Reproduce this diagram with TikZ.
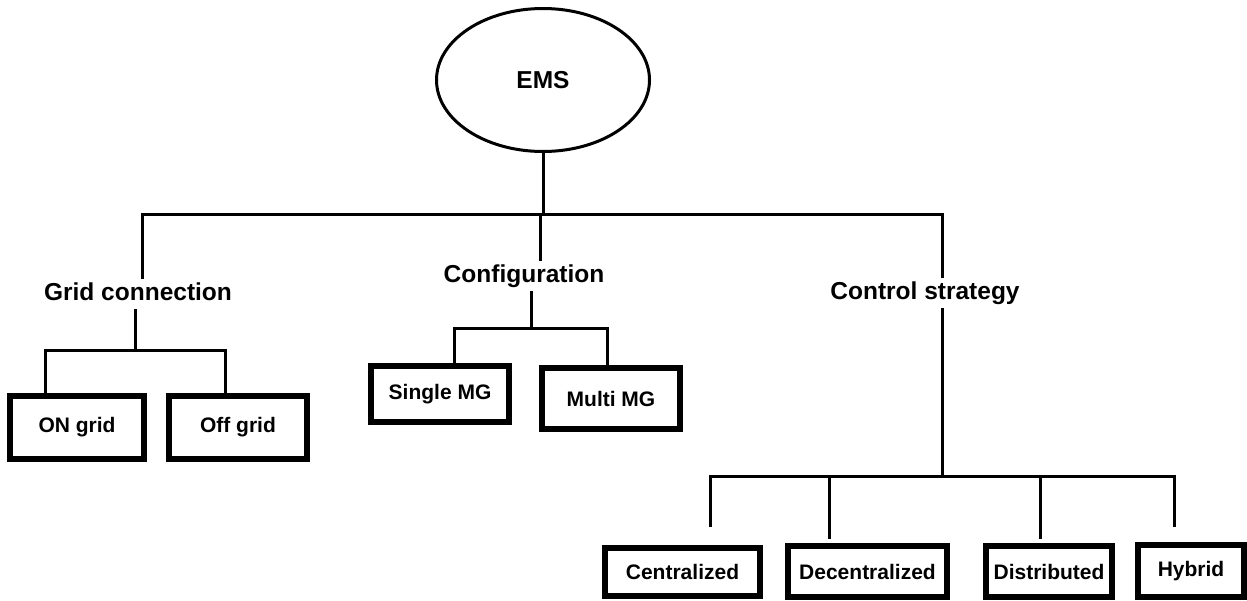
\documentclass[tikz,border=0pt]{standalone}
\usepackage{fontspec}
\setmainfont{Liberation Sans}
\usetikzlibrary{shapes.geometric}

\tikzset{
  lbl/.style={font=\bfseries\fontsize{24.5}{28}\selectfont, inner xsep=0pt,
    inner ysep=4pt, text height=18pt, text depth=6pt},
  leaf/.style={draw, line width=6pt, font=\bfseries\fontsize{21}{24}\selectfont, inner sep=0pt},
  wire/.style={line width=3pt, line cap=rect}
}

\begin{document}
\begin{tikzpicture}[x=1pt,y=-1pt]
\useasboundingbox (0,0) rectangle (1247,600);

\node[draw, ellipse, line width=3pt, minimum width=213pt, minimum height=143pt,
      font=\bfseries\fontsize{24.5}{28}\selectfont] (ems) at (543,80) {EMS};

\node[lbl, anchor=base] (grid) at (138,300) {Grid connection};
\node[lbl, anchor=base] (conf) at (524,282) {Configuration};
\node[lbl, anchor=base] (ctrl) at (925,299) {Control strategy};

\node[leaf, minimum width=134pt, minimum height=63pt] (on)     at (77,427.5)   {ON grid};
\node[leaf, minimum width=138pt, minimum height=63pt] (off)    at (238,427.5)  {Off grid};
\node[leaf, minimum width=138pt, minimum height=56pt] (single) at (440,394)    {Single MG};
\node[leaf, minimum width=138pt, minimum height=61pt] (multi)  at (611,398.5)  {Multi MG};
\node[leaf, minimum width=155pt, minimum height=48pt] (cen)    at (682.5,572)  {Centralized};
\node[leaf, minimum width=159pt, minimum height=51pt] (dec)    at (867.5,571.5) {Decentralized};
\node[leaf, minimum width=126pt, minimum height=51pt] (dis)    at (1049,571.5) {Distributed};
\node[leaf, minimum width=106pt, minimum height=52pt] (hyb)    at (1191,571)   {Hybrid};

% junctions
\coordinate (top) at (543,214);
\coordinate (tg)  at (142,214);
\coordinate (tc)  at (540,214);
\coordinate (ts)  at (942,214);
\coordinate (gg)  at (135,350);
\coordinate (ggl) at (45,350);
\coordinate (ggr) at (225,350);
\coordinate (cc)  at (531,328);
\coordinate (ccl) at (454,328);
\coordinate (ccr) at (607,328);
\coordinate (ss)  at (942,476);
\coordinate (ssl) at (710,476);
\coordinate (ssr) at (1174,476);
\coordinate (l1)  at (710,525);
\coordinate (l2)  at (829,537);
\coordinate (l3)  at (1040,537);
\coordinate (l4)  at (1174,525);

\draw[wire] (ems) -- (top);
\draw[wire] (tg) -- (ts);
\foreach \t/\n in {tg/grid,tc/conf,ts/ctrl}
  \draw[wire] (\t) -- (\t |- \n.north);

\draw[wire] (gg |- grid.south) -- (gg);
\draw[wire] (cc |- conf.south) -- (cc);
\draw[wire] (ss |- ctrl.south) -- (ss);
\draw[wire] (ggl) -- (ggr);
\draw[wire] (ccl) -- (ccr);
\draw[wire] (ssl) -- (ssr);

\foreach \j/\n in {ggl/on,ggr/off,ccl/single,ccr/multi}
  \draw[wire] (\j) -- (\j |- \n.north);
\foreach \e in {l1,l2,l3,l4}
  \draw[wire] (\e |- ss) -- (\e);

\end{tikzpicture}
\end{document}
